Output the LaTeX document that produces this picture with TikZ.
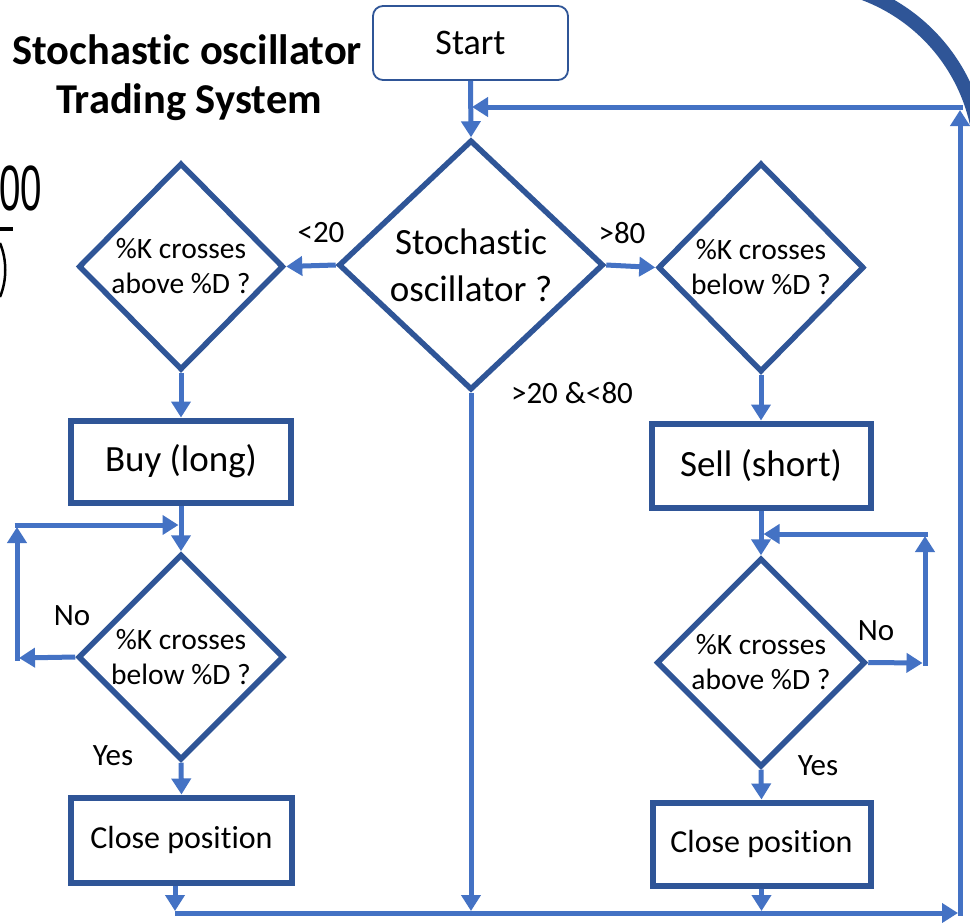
\documentclass[tikz,border=0pt]{standalone}
\usepackage{fontspec}
\usepackage{graphicx}
\setmainfont{Carlito}[Ligatures=NoCommon]
\newfontfamily\digitfont{Liberation Sans}
\usetikzlibrary{shapes.geometric,arrows.meta,calc}
\definecolor{bd}{HTML}{2F5597}
\definecolor{ar}{HTML}{4472C4}
\tikzset{
 dia/.style={diamond, draw=bd, line width=5.5pt, inner sep=0pt, align=center, font=\fontsize{29.5}{35}\selectfont, line join=miter},
 box/.style={rectangle, draw=bd, line width=6pt, inner sep=0pt, align=center},
 arr/.style={draw=ar, line width=5pt, -{Triangle[length=16pt,width=19pt]}},
 lab/.style={font=\fontsize{31}{37}\selectfont, anchor=base, inner sep=0pt},
 ttl/.style={font=\bfseries\fontsize{42.5}{47}\selectfont, anchor=base, inner sep=0pt},
}
\begin{document}
\begin{tikzpicture}[x=1pt,y=-1pt]
\useasboundingbox (0,0) rectangle (970,922);
\fill[white] (0,0) rectangle (970,922);

% fragments at the edges
\begin{scope}
\clip (0,0) rectangle (970,922);
\draw[bd, line width=14pt] (801,162) ++(-75:180) arc[start angle=-75, end angle=-5, radius=180];
\node[font=\digitfont\fontsize{64}{64}\selectfont, anchor=base east, inner sep=0pt] (frag) at (42,210) {\scalebox{0.6}[1]{00}};
\draw[line width=4pt] (0,229) -- (13,229);
\draw[line width=2.5pt] (0,243) .. controls (7,260) and (7,280) .. (0,297);
\end{scope}

% title
\node[ttl] (t1) at (187,64) {Stochastic oscillator};
\node[ttl] (t2) at (189,113) {Trading System};

% nodes
\node[box, rounded corners=10pt, line width=1.8pt, minimum width=195pt, minimum height=74pt, font=\fontsize{36}{44}\selectfont] (start) at (470.5,43) {Start};
\node[dia, minimum width=265pt, minimum height=250pt, font=\fontsize{37}{47}\selectfont] (main) at (471,265) {Stochastic\\oscillator ?};
\node[dia, minimum width=205pt, minimum height=207pt] (ld) at (181,266.5) {\%K crosses\\above \%D ?};
\node[dia, minimum width=206pt, minimum height=209pt] (rd) at (761,267.5) {\%K crosses\\below \%D ?};
\node[box, minimum width=220pt, minimum height=82pt, font=\fontsize{37}{44}\selectfont] (buy) at (181,461.5) {Buy (long)};
\node[box, minimum width=219pt, minimum height=84pt, font=\fontsize{37}{44}\selectfont] (sell) at (761,465.5) {Sell (short)};
\node[dia, minimum width=206pt, minimum height=206pt] (lld) at (181,657) {\%K crosses\\below \%D ?};
\node[dia, minimum width=209pt, minimum height=209pt] (lrd) at (761,662.5) {\%K crosses\\above \%D ?};
\node[box, minimum width=221pt, minimum height=85pt, font=\fontsize{32}{38}\selectfont] (cl) at (181.5,840) {Close position};
\node[box, minimum width=218pt, minimum height=83pt, font=\fontsize{32}{38}\selectfont] (cr) at (761.5,844) {Close position};

% helper coordinates
\coordinate (bl) at (175,911);
\coordinate (bls) at (175,913);
\coordinate (bre) at (958,913);
\coordinate (rvb) at (960,915.5);
\coordinate (rvt) at (960,110);
\coordinate (ths) at (962.5,107);
\coordinate (the) at (472,107);
\coordinate (lha) at (19,658);
\coordinate (lvb) at (17,660.5);
\coordinate (lvt) at (17,527);
\coordinate (lhs) at (14.5,525);
\coordinate (lhe) at (178.5,525);
\coordinate (rha) at (922.5,663);
\coordinate (rvb2) at (925,665.5);
\coordinate (rvt2) at (925,536);
\coordinate (rhs) at (927.5,534);
\coordinate (rhe) at (763.5,534);

% connectors
\draw[arr] (start.south) -- (main.north);
\draw[arr] (main.west) -- (ld.east);
\draw[arr] (main.east) -- (rd.west);
\draw[arr] (ld.south) -- (buy.north);
\draw[arr] (rd.south) -- (sell.north);
\draw[arr] (buy.south) -- (lld.north);
\draw[arr] (sell.south) -- (lrd.north);
\draw[arr] (lld.south) -- (cl.north);
\draw[arr] (lrd.south) -- (cr.north);
\draw[arr] (cl.south -| bl) -- (bl);
\draw[arr] (main.south) -- (main.south |- bl);
\draw[arr] (cr.south) -- (cr.south |- bl);
\draw[arr] (bls) -- (bre);
\draw[arr] (rvb) -- (rvt);
\draw[arr] (ths) -- (the);
\draw[arr] (lld.west) -- (lha);
\draw[arr] (lvb) -- (lvt);
\draw[arr] (lhs) -- (lhe);
\draw[arr] (lrd.east) -- (rha);
\draw[arr] (rvb2) -- (rvt2);
\draw[arr] (rhs) -- (rhe);

% labels
\node[lab] (l20) at (321,242) {<20};
\node[lab] (l80) at (622,243) {>80};
\node[lab] (lmid) at (572,403) {>20 \&<80};
\node[lab] (nol) at (72,625) {No};
\node[lab] (yesl) at (113,765) {Yes};
\node[lab] (nor) at (876,640) {No};
\node[lab] (yesr) at (818,775) {Yes};
\end{tikzpicture}
\end{document}
